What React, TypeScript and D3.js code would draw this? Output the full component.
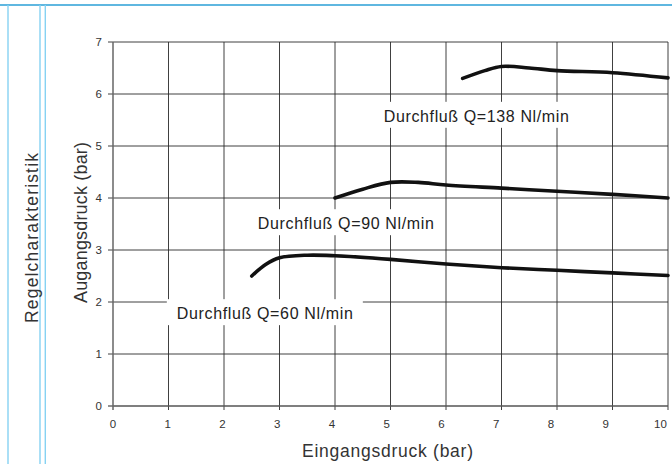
import React from "react";
import * as d3 from "d3";

const xTicks = [0, 1, 2, 3, 4, 5, 6, 7, 8, 9, 10];
const yTicks = [0, 1, 2, 3, 4, 5, 6, 7];

const x60 = [2.5, 2.75, 3.0, 3.5, 4.0, 5.0, 6.0, 7.0, 8.0, 9.0, 10.0];
const y60 = [2.5, 2.72, 2.85, 2.9, 2.89, 2.82, 2.73, 2.66, 2.61, 2.56, 2.51];
const x90 = [4, 4.5, 5, 5.5, 6, 7, 8, 9, 10];
const y90 = [4.0, 4.17, 4.3, 4.3, 4.25, 4.19, 4.13, 4.07, 4.0];
const x138 = [6.3, 6.7, 7.0, 7.5, 8, 9, 10];
const y138 = [6.3, 6.45, 6.53, 6.5, 6.45, 6.41, 6.31];

const seriesLabels = ["Durchfluß Q=60 Nl/min", "Durchfluß Q=90 Nl/min", "Durchfluß Q=138 Nl/min"];
// label anchor in data units (x start, baseline y)
const labelX = [1.15, 2.61, 4.88];
const labelY = [1.67, 3.4, 5.465];
const labelW = [176, 176, 185];

export default function App() {
  const W = 672, H = 464;
  const xs = d3.scaleLinear().domain([0, 10]).range([113, 668]);
  const xl = d3.scaleLinear().domain([0, 10]).range([113, 660.5]);
  const ys = d3.scaleLinear().domain([0, 7]).range([406, 42]);
  const line = d3
    .line<[number, number]>()
    .x((d) => xs(d[0]))
    .y((d) => ys(d[1]))
    .curve(d3.curveCatmullRom.alpha(0.5));
  const series = [
    d3.zip(x60, y60) as [number, number][],
    d3.zip(x90, y90) as [number, number][],
    d3.zip(x138, y138) as [number, number][],
  ];
  const font = "'Liberation Sans', Arial, Helvetica, sans-serif";
  return (
    <svg width={W} height={H} style={{ position: "absolute", left: 0, top: 0, background: "#fff" }} fontFamily={font}>
      <rect x={0} y={0} width={W} height={H} fill="#fff" />
      {/* frame decoration */}
      <line x1={0} x2={W} y1={5} y2={5} stroke="#2a9fd6" strokeWidth={1.4} />
      <line x1={8} x2={8} y1={5} y2={H} stroke="#86d2f2" strokeWidth={1.4} />
      <line x1={40} x2={40} y1={5} y2={H} stroke="#86d2f2" strokeWidth={1.4} />
      <line x1={45.3} x2={45.3} y1={5} y2={H} stroke="#86d2f2" strokeWidth={1.4} />
      <text
        transform="translate(38,238) rotate(-90)"
        textAnchor="middle"
        fontSize={17.5}
        fill="#333"
        textLength={170}
        lengthAdjust="spacing"
      >
        Regelcharakteristik
      </text>
      {/* grid */}
      {xTicks.slice(1).map((t) => (
        <line key={"gx" + t} x1={xs(t)} x2={xs(t)} y1={ys(7)} y2={ys(0) + 4} stroke="#2a2a2a" strokeWidth={0.9} />
      ))}
      {yTicks.slice(1).map((t) => (
        <line key={"gy" + t} x1={xs(0) - 5} x2={xs(10)} y1={ys(t)} y2={ys(t)} stroke="#2a2a2a" strokeWidth={0.9} />
      ))}
      <line x1={xs(0)} x2={xs(10)} y1={ys(0)} y2={ys(0)} stroke="#555" strokeWidth={1.3} />
      <line x1={xs(0) - 5} x2={xs(0)} y1={ys(0)} y2={ys(0)} stroke="#555" strokeWidth={1.3} />
      <line x1={xs(0)} x2={xs(0)} y1={ys(7)} y2={ys(0) + 4} stroke="#666" strokeWidth={1.5} />
      {xTicks.map((t) => (
        <text key={"tx" + t} x={xl(t)} y={ys(0) + 22} textAnchor="middle" fontSize={11.5} fill="#333">
          {t}
        </text>
      ))}
      {yTicks.map((t) => (
        <text key={"ty" + t} x={102} y={ys(t) + 4} textAnchor="end" fontSize={11.5} fill="#333">
          {t}
        </text>
      ))}
      {/* labels with white backgrounds */}
      {seriesLabels.map((s, i) => {
        const lx = xs(labelX[i]);
        const ly = ys(labelY[i]);
        const w = labelW[i];
        return (
          <g key={"lab" + i}>
            <rect x={lx - 10} y={ly - 20} width={w + 20} height={26} fill="#fff" />
            <text x={lx} y={ly} fontSize={16} fill="#222" textLength={w} lengthAdjust="spacing">
              {s}
            </text>
          </g>
        );
      })}
      {series.map((d, i) => (
        <path key={"s" + i} d={line(d) || ""} fill="none" stroke="#111" strokeWidth={3.6} strokeLinecap="round" />
      ))}
      <text
        transform="translate(86.5,222.5) rotate(-90)"
        textAnchor="middle"
        fontSize={18}
        fill="#333"
        textLength={161}
        lengthAdjust="spacing"
      >
        Augangsdruck (bar)
      </text>
      <text
        x={387.5}
        y={457}
        textAnchor="middle"
        fontSize={17.5}
        fill="#333"
        textLength={171}
        lengthAdjust="spacing"
      >
        Eingangsdruck (bar)
      </text>
    </svg>
  );
}
